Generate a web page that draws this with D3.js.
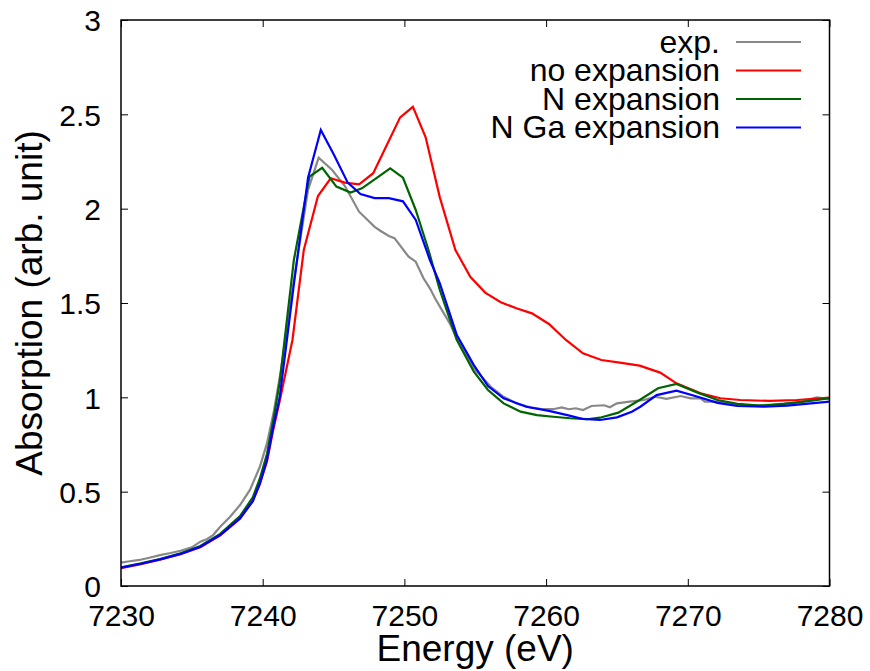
<!DOCTYPE html>
<html><head><meta charset="utf-8">
<script src="https://cdn.jsdelivr.net/npm/d3@7"></script>
<style>body{margin:0;background:#fff}svg{display:block}text{font-family:"Liberation Sans",Arial,sans-serif;fill:#000}</style>
</head><body><svg id="c" width="870" height="671"></svg>
<script>
const seriesNames = ["exp.", "no expansion", "N expansion", "N Ga expansion"];
const seriesColors = ["#888888", "#ff0000", "#006400", "#0000ff"];
const xTicks = [7230, 7240, 7250, 7260, 7270, 7280];
const yTicks = [0, 0.5, 1, 1.5, 2, 2.5, 3];
const yTickLabels = ["0", "0.5", "1", "1.5", "2", "2.5", "3"];

const expData = [[7230,0.124],[7230.5,0.13],[7231.3,0.138],[7232,0.15],[7232.75,0.164],[7233.5,0.175],[7234.2,0.187],[7235,0.205],[7235.6,0.235],[7236.05,0.248],[7236.5,0.27],[7237.0,0.314],[7237.7,0.367],[7238.4,0.429],[7239.1,0.509],[7239.8,0.632],[7240.3,0.756],[7240.8,0.93],[7241.3,1.15],[7242.2,1.62],[7243.2,2.10],[7243.95,2.270],[7244.9,2.205],[7245.8,2.12],[7246.8,1.984],[7247.9,1.904],[7248.3,1.883],[7248.9,1.855],[7249.3,1.844],[7250.3,1.745],[7250.8,1.719],[7251.35,1.631],[7251.8,1.578],[7252.2,1.52],[7253.2,1.392],[7253.7,1.313],[7254.9,1.154],[7256.1,1.056],[7257.0,1.003],[7257.9,0.968],[7258.9,0.947],[7259.8,0.937],[7260.5,0.937],[7261.1,0.947],[7261.6,0.937],[7262.1,0.942],[7262.6,0.933],[7263.2,0.954],[7264.1,0.958],[7264.5,0.947],[7265.0,0.968],[7265.9,0.977],[7266.9,0.986],[7267.7,1.003],[7268.5,0.992],[7269.5,1.007],[7270.2,0.995],[7270.9,0.995],[7271.2,0.977],[7272.1,0.977],[7273,0.965],[7274,0.96],[7275,0.958],[7276,0.962],[7277,0.968],[7278,0.975],[7279.1,1.0],[7280,0.99]];

const noExpData = [[7230,0.095],[7231.4,0.116],[7232.75,0.139],[7234.2,0.168],[7235.6,0.206],[7237.0,0.268],[7238.4,0.357],[7239.3,0.45],[7239.8,0.54],[7240.3,0.66],[7240.75,0.83],[7241.2,0.98],[7242.1,1.304],[7242.9,1.781],[7243.9,2.067],[7244.8,2.161],[7245.8,2.138],[7246.8,2.129],[7247.8,2.188],[7248.7,2.328],[7249.7,2.484],[7250.6,2.540],[7251.5,2.378],[7252.5,2.06],[7253.6,1.781],[7254.65,1.639],[7255.7,1.555],[7256.8,1.504],[7257.9,1.472],[7259.0,1.445],[7260.2,1.389],[7261.4,1.304],[7262.6,1.233],[7263.9,1.198],[7265.2,1.184],[7266.6,1.168],[7268.05,1.131],[7269.2,1.074],[7270.9,1.021],[7272.3,0.995],[7273.7,0.986],[7275.8,0.981],[7277.7,0.986],[7280,0.998]];

const nExpData = [[7230,0.099],[7231.4,0.12],[7232.75,0.143],[7234.2,0.173],[7235.6,0.212],[7237.0,0.276],[7238.4,0.370],[7239.3,0.47],[7239.8,0.57],[7240.3,0.70],[7240.75,0.88],[7241.2,1.08],[7242.2,1.728],[7243.3,2.170],[7244.2,2.217],[7245.2,2.117],[7246.2,2.085],[7247.0,2.108],[7248.0,2.161],[7249.0,2.214],[7249.9,2.164],[7250.8,1.993],[7251.7,1.781],[7252.5,1.569],[7253.7,1.304],[7254.9,1.136],[7255.9,1.039],[7257.0,0.968],[7258.2,0.924],[7259.35,0.906],[7260.5,0.897],[7261.7,0.889],[7262.9,0.884],[7263.8,0.892],[7265.1,0.919],[7266.6,0.986],[7267.9,1.048],[7269.2,1.071],[7270.7,1.025],[7272.1,0.986],[7273.5,0.965],[7275.1,0.956],[7276.8,0.965],[7278.5,0.98],[7280,0.995]];

const nGaExpData = [[7230,0.097],[7231.4,0.118],[7232.75,0.141],[7234.2,0.170],[7235.6,0.208],[7237.0,0.270],[7238.4,0.359],[7239.3,0.45],[7239.8,0.544],[7240.3,0.668],[7240.75,0.844],[7241.2,1.0],[7242.2,1.60],[7243.2,2.164],[7244.1,2.417],[7245.0,2.290],[7246.0,2.138],[7246.9,2.078],[7247.9,2.056],[7248.9,2.056],[7249.9,2.039],[7250.8,1.940],[7251.8,1.728],[7252.5,1.604],[7253.7,1.330],[7254.9,1.171],[7255.9,1.060],[7257.0,0.995],[7258.6,0.950],[7260.2,0.928],[7261.5,0.906],[7262.6,0.885],[7263.8,0.880],[7265.0,0.894],[7266.05,0.924],[7266.65,0.950],[7267.8,1.012],[7269.2,1.035],[7270.7,1.003],[7272.1,0.971],[7273.5,0.954],[7275.4,0.950],[7277.0,0.956],[7280.0,0.977]];

const allData = [expData, noExpData, nExpData, nGaExpData];

const W = 870, H = 671;
const m = {left: 121, right: 40.5, top: 20, bottom: 85};
const svg = d3.select("#c");
const x = d3.scaleLinear().domain([7230, 7280]).range([m.left, W - m.right]);
const y = d3.scaleLinear().domain([0, 3]).range([H - m.bottom, m.top]);

const tickLen = 7;
const fsTick = 30;
svg.append("g").attr("transform", `translate(0,${H - m.bottom})`)
  .call(d3.axisBottom(x).tickValues(xTicks).tickSize(-tickLen).tickPadding(tickLen + 12).tickFormat(d3.format("d")))
  .call(g => { g.select(".domain").remove(); g.selectAll("line").attr("stroke", "#000").attr("stroke-width", 1); g.selectAll("text").attr("font-size", fsTick).attr("font-family", "Liberation Sans, Arial, sans-serif"); });
svg.append("g").attr("transform", `translate(0,${m.top})`)
  .call(d3.axisTop(x).tickValues(xTicks).tickSize(-tickLen).tickFormat(""))
  .call(g => { g.select(".domain").remove(); g.selectAll("line").attr("stroke", "#000"); });
svg.append("g").attr("transform", `translate(${m.left},0)`)
  .call(d3.axisLeft(y).tickValues(yTicks).tickSize(-tickLen).tickPadding(tickLen + 13).tickFormat((d, i) => yTickLabels[i]))
  .call(g => { g.select(".domain").remove(); g.selectAll("line").attr("stroke", "#000"); g.selectAll("text").attr("font-size", fsTick).attr("font-family", "Liberation Sans, Arial, sans-serif").attr("dy", "0.36em"); });
svg.append("g").attr("transform", `translate(${W - m.right},0)`)
  .call(d3.axisRight(y).tickValues(yTicks).tickSize(-tickLen).tickFormat(""))
  .call(g => { g.select(".domain").remove(); g.selectAll("line").attr("stroke", "#000"); });

svg.append("clipPath").attr("id", "clip").append("rect")
  .attr("x", m.left).attr("y", m.top).attr("width", W - m.left - m.right).attr("height", H - m.top - m.bottom);

const line = d3.line().x(d => x(d[0])).y(d => y(d[1]));
allData.forEach((data, i) => {
  svg.append("path").datum(data).attr("d", line).attr("fill", "none")
    .attr("stroke", seriesColors[i]).attr("stroke-width", 2.2).attr("stroke-linejoin", "miter")
    .attr("clip-path", "url(#clip)");
});

svg.append("rect").attr("x", m.left).attr("y", m.top).attr("width", W - m.left - m.right).attr("height", H - m.top - m.bottom)
  .attr("fill", "none").attr("stroke", "#000").attr("stroke-width", 1.5);

const lg = svg.append("g");
seriesNames.forEach((name, i) => {
  const ly = 42 + i * 28.5;
  lg.append("text").attr("x", 720).attr("y", ly).attr("dy", "0.33em").attr("text-anchor", "end").attr("font-size", 32).text(name);
  lg.append("line").attr("x1", 736).attr("x2", 801).attr("y1", ly).attr("y2", ly).attr("stroke", seriesColors[i]).attr("stroke-width", 2.2);
});

svg.append("text").attr("x", (m.left + W - m.right) / 2).attr("y", 661).attr("text-anchor", "middle").attr("font-size", 37).text("Energy (eV)");
svg.append("text").attr("transform", `translate(42,${(m.top + H - m.bottom) / 2}) rotate(-90)`).attr("text-anchor", "middle").attr("font-size", 37).text("Absorption (arb. unit)");
</script></body></html>
